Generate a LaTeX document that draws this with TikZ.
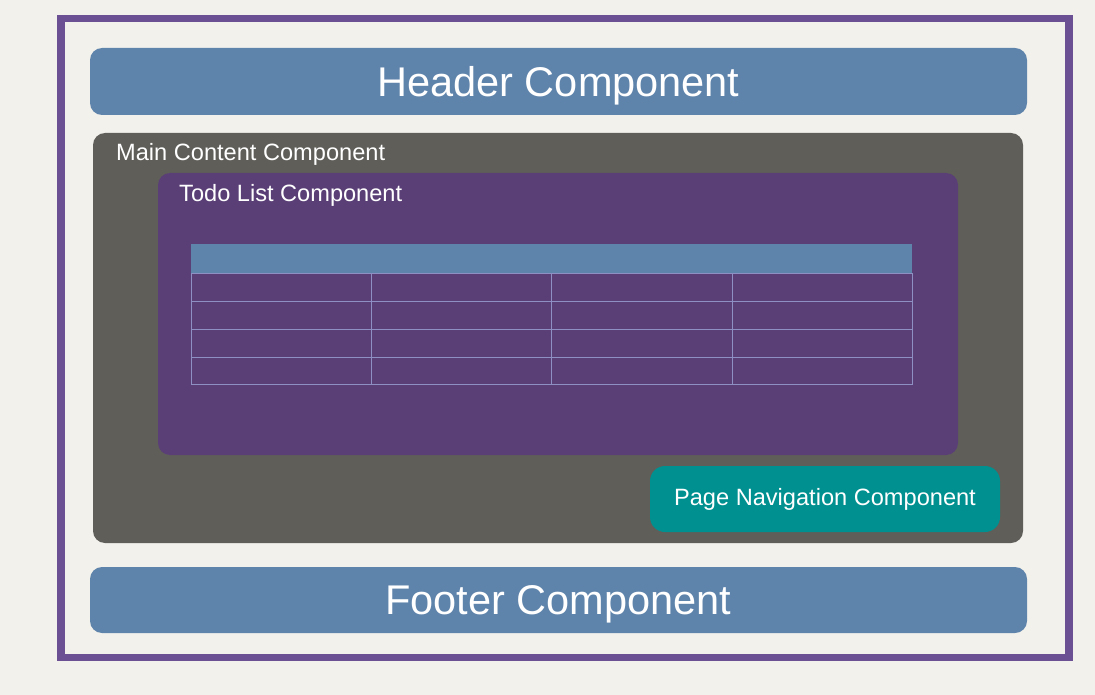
\documentclass[tikz,border=0pt]{standalone}
\usepackage{fontspec}
\setmainfont{Liberation Sans}
\usetikzlibrary{positioning}
\definecolor{paper}{HTML}{F3F1EC}
\definecolor{framepurple}{HTML}{6C5094}
\definecolor{barblue}{HTML}{5F84AB}
\definecolor{slate}{HTML}{5F5E59}
\definecolor{plum}{HTML}{5A3F77}
\definecolor{teal}{HTML}{009090}
\definecolor{gridline}{HTML}{8E8FC2}
\tikzset{bar/.style={fill=barblue,rounded corners=12pt,inner sep=0pt,text depth=0pt,text=white,font=\fontsize{41.5}{48}\selectfont},panel/.style={rounded corners=12pt,inner sep=0pt},label/.style={text=white,anchor=west,inner sep=0pt,font=\fontsize{23.6}{27}\selectfont},navbox/.style={fill=teal,rounded corners=15pt,inner sep=0pt,text=white,font=\fontsize{23.6}{27}\selectfont}}

\begin{document}
\begin{tikzpicture}[x=1pt,y=-1pt]

\fill[paper] (0,0) rectangle (1095,695);
\useasboundingbox (0,0) rectangle (1095,695);
\node[draw=framepurple,line width=7.5pt,minimum width=1008pt,minimum height=639pt,inner sep=0pt] (page) at (565,338) {};
\node[bar,minimum width=937pt,minimum height=67pt] (header) at (558.5,81.5) {Header Component};
\node[panel,fill=slate,minimum width=930pt,minimum height=410pt] (main) at (558,338) {};
\node[label] (mainlabel) at (116,154) {Main Content Component};
\node[panel,fill=plum,minimum width=800pt,minimum height=282pt] (todo) at (558,314) {};
\node[label] (todolabel) at (179,195) {Todo List Component};
\node[fill=barblue,minimum width=721pt,minimum height=29pt,inner sep=0pt] (tablehead) at (551.5,258.5) {};
\draw[gridline,line width=1pt] (191,273) rectangle (912,384);
\foreach \y in {301,329,357} \draw[gridline,line width=1pt] (191,\y) -- (912,\y);
\foreach \x in {371,551,732} \draw[gridline,line width=1pt] (\x,273) -- (\x,384);
\node[navbox,minimum width=350pt,minimum height=66pt] (pagenav) at (825,499) {Page Navigation Component};
\node[bar,minimum width=937pt,minimum height=66pt] (footer) at (558.5,600) {Footer Component};
\end{tikzpicture}
\end{document}
